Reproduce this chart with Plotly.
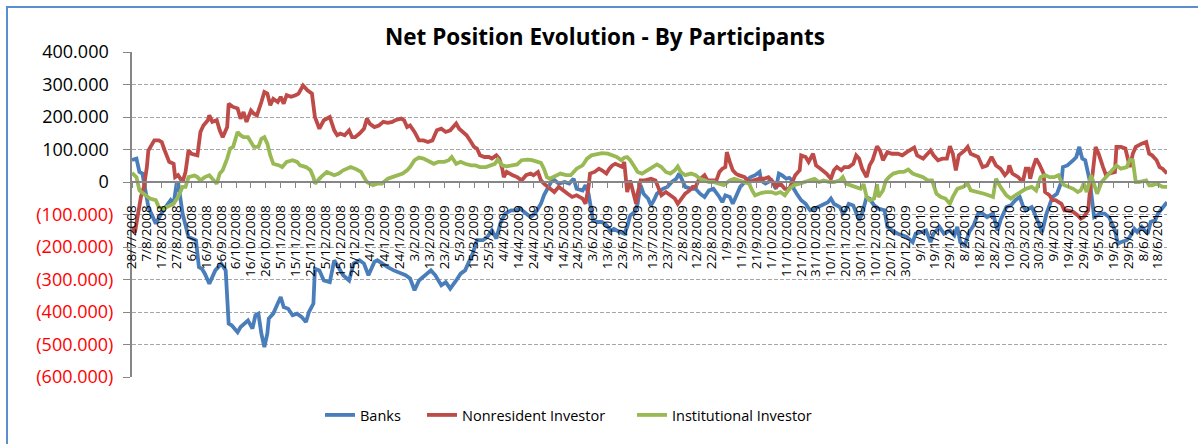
import plotly.graph_objects as go

# ---------------- data ----------------
banks_dates = [
    "2008-07-28", "2008-07-31", "2008-08-02", "2008-08-04", "2008-08-06", "2008-08-08", "2008-08-13", "2008-08-18",
    "2008-08-23", "2008-08-25", "2008-08-27", "2008-08-28", "2008-08-31", "2008-09-04", "2008-09-09", "2008-09-11",
    "2008-09-13", "2008-09-15", "2008-09-18", "2008-09-20", "2008-09-22", "2008-09-24", "2008-09-26", "2008-09-29",
    "2008-10-01", "2008-10-03", "2008-10-07", "2008-10-09", "2008-10-12", "2008-10-14", "2008-10-17", "2008-10-19",
    "2008-10-21", "2008-10-23", "2008-10-25", "2008-10-27", "2008-10-28", "2008-10-31", "2008-11-03", "2008-11-05",
    "2008-11-07", "2008-11-10", "2008-11-13", "2008-11-16", "2008-11-19", "2008-11-22", "2008-11-24", "2008-11-27",
    "2008-11-28", "2008-12-01", "2008-12-04", "2008-12-08", "2008-12-11", "2008-12-14", "2008-12-17", "2008-12-21",
    "2008-12-24", "2008-12-28", "2008-12-31", "2009-01-03", "2009-01-07", "2009-01-09", "2009-01-12", "2009-01-16",
    "2009-01-20", "2009-01-25", "2009-01-28", "2009-01-31", "2009-02-03", "2009-02-06", "2009-02-09", "2009-02-14",
    "2009-02-17", "2009-02-21", "2009-02-24", "2009-02-27", "2009-03-03", "2009-03-06", "2009-03-09", "2009-03-12",
    "2009-03-14", "2009-03-17", "2009-03-21", "2009-03-24", "2009-03-27", "2009-03-30", "2009-04-02", "2009-04-05",
    "2009-04-09", "2009-04-12", "2009-04-15", "2009-04-19", "2009-04-22", "2009-04-25", "2009-04-29", "2009-05-01",
    "2009-05-04", "2009-05-07", "2009-05-11", "2009-05-15", "2009-05-18", "2009-05-21", "2009-05-23", "2009-05-27",
    "2009-05-29", "2009-05-31", "2009-06-03", "2009-06-06", "2009-06-09", "2009-06-12", "2009-06-15", "2009-06-17",
    "2009-06-19", "2009-06-22", "2009-06-24", "2009-06-26", "2009-06-28", "2009-07-01", "2009-07-03", "2009-07-05",
    "2009-07-07", "2009-07-10", "2009-07-12", "2009-07-14", "2009-07-16", "2009-07-20", "2009-07-23", "2009-07-26",
    "2009-07-29", "2009-07-31", "2009-08-02", "2009-08-04", "2009-08-08", "2009-08-11", "2009-08-14", "2009-08-17",
    "2009-08-20", "2009-08-23", "2009-08-27", "2009-08-29", "2009-08-31", "2009-09-03", "2009-09-05", "2009-09-07",
    "2009-09-10", "2009-09-14", "2009-09-17", "2009-09-20", "2009-09-23", "2009-09-24", "2009-09-27", "2009-10-01",
    "2009-10-04", "2009-10-06", "2009-10-08", "2009-10-11", "2009-10-13", "2009-10-15", "2009-10-16", "2009-10-18",
    "2009-10-21", "2009-10-24", "2009-10-27", "2009-10-30", "2009-11-01", "2009-11-04", "2009-11-08", "2009-11-10",
    "2009-11-12", "2009-11-16", "2009-11-18", "2009-11-20", "2009-11-22", "2009-11-25", "2009-11-27", "2009-11-29",
    "2009-12-01", "2009-12-04", "2009-12-06", "2009-12-09", "2009-12-12", "2009-12-16", "2009-12-18", "2009-12-21",
    "2009-12-25", "2009-12-28", "2009-12-31", "2010-01-04", "2010-01-06", "2010-01-10", "2010-01-13", "2010-01-16",
    "2010-01-18", "2010-01-22", "2010-01-25", "2010-01-29", "2010-02-01", "2010-02-03", "2010-02-05", "2010-02-08",
    "2010-02-11", "2010-02-14", "2010-02-17", "2010-02-20", "2010-02-23", "2010-02-27", "2010-03-02", "2010-03-04",
    "2010-03-08", "2010-03-11", "2010-03-14", "2010-03-17", "2010-03-19", "2010-03-21", "2010-03-25", "2010-03-27",
    "2010-03-29", "2010-04-01", "2010-04-04", "2010-04-06", "2010-04-08", "2010-04-11", "2010-04-14", "2010-04-15",
    "2010-04-18", "2010-04-22", "2010-04-24", "2010-04-26", "2010-04-28", "2010-04-30", "2010-05-03", "2010-05-06",
    "2010-05-10", "2010-05-13", "2010-05-16", "2010-05-20", "2010-05-22", "2010-05-24", "2010-05-28", "2010-05-30",
    "2010-06-02", "2010-06-04", "2010-06-07", "2010-06-09", "2010-06-11", "2010-06-13", "2010-06-16", "2010-06-18",
    "2010-06-21", "2010-06-24",
]
banks_values = [
    68000, 72000, 31000, 26000, -26000, -77000, -128000, -87000,
    -56000, -67000, -5000, 0, -97000, -169000, -179000, -262000,
    -267000, -282000, -313000, -292000, -272000, -262000, -251000, -272000,
    -436000, -441000, -462000, -446000, -436000, -426000, -451000, -410000,
    -405000, -467000, -508000, -467000, -420000, -405000, -374000, -354000,
    -385000, -390000, -410000, -405000, -415000, -431000, -400000, -374000,
    -267000, -272000, -303000, -308000, -241000, -262000, -287000, -303000,
    -251000, -241000, -251000, -287000, -246000, -241000, -251000, -262000,
    -272000, -282000, -287000, -297000, -333000, -303000, -292000, -272000,
    -287000, -318000, -308000, -328000, -303000, -282000, -272000, -241000,
    -221000, -179000, -179000, -169000, -149000, -174000, -123000, -97000,
    -87000, -87000, -82000, -97000, -108000, -97000, -67000, -41000,
    -15000, 10000, -5000, 0, -5000, 10000, -21000, -26000,
    -10000, -36000, -118000, -123000, -123000, -133000, -149000, -144000,
    -149000, -154000, -159000, -138000, -103000, -92000, -67000, -10000,
    -36000, -51000, -72000, -56000, -36000, -21000, -15000, 0,
    10000, 26000, 5000, -15000, -21000, -21000, -36000, -46000,
    -26000, -21000, -46000, -62000, -41000, -46000, -67000, -46000,
    -15000, 5000, 15000, 21000, 31000, 5000, -5000, 5000,
    -21000, 26000, 21000, 10000, 13000, 5000, -21000, -36000,
    -56000, -67000, -87000, -82000, -77000, -72000, -62000, -51000,
    -67000, -77000, -97000, -87000, -67000, -72000, -97000, -118000,
    -97000, -46000, -51000, -72000, -82000, -87000, -138000, -149000,
    -159000, -164000, -169000, -185000, -159000, -154000, -149000, -185000,
    -159000, -138000, -159000, -149000, -164000, -138000, -185000, -195000,
    -154000, -133000, -97000, -97000, -108000, -97000, -149000, -118000,
    -77000, -72000, -56000, -46000, -72000, -87000, -77000, -97000,
    -118000, -154000, -97000, -72000, -46000, -36000, 0, 46000,
    51000, 67000, 77000, 108000, 72000, 67000, 5000, -108000,
    -97000, -97000, -108000, -149000, -190000, -185000, -179000, -169000,
    -144000, -154000, -138000, -149000, -159000, -123000, -118000, -97000,
    -77000, -62000,
]

nonresident_dates = [
    "2008-07-28", "2008-07-30", "2008-08-01", "2008-08-03", "2008-08-05", "2008-08-07", "2008-08-08", "2008-08-12",
    "2008-08-15", "2008-08-17", "2008-08-19", "2008-08-22", "2008-08-25", "2008-08-26", "2008-08-28", "2008-08-30",
    "2008-08-31", "2008-09-02", "2008-09-04", "2008-09-06", "2008-09-10", "2008-09-12", "2008-09-14", "2008-09-17",
    "2008-09-18", "2008-09-20", "2008-09-23", "2008-09-25", "2008-09-27", "2008-09-30", "2008-10-01", "2008-10-04",
    "2008-10-07", "2008-10-09", "2008-10-11", "2008-10-13", "2008-10-16", "2008-10-18", "2008-10-20", "2008-10-23",
    "2008-10-25", "2008-10-27", "2008-10-29", "2008-10-31", "2008-11-03", "2008-11-05", "2008-11-07", "2008-11-09",
    "2008-11-12", "2008-11-15", "2008-11-17", "2008-11-20", "2008-11-23", "2008-11-26", "2008-11-28", "2008-12-01",
    "2008-12-04", "2008-12-08", "2008-12-11", "2008-12-13", "2008-12-15", "2008-12-18", "2008-12-21", "2008-12-23",
    "2008-12-25", "2008-12-28", "2008-12-31", "2009-01-02", "2009-01-04", "2009-01-07", "2009-01-10", "2009-01-13",
    "2009-01-16", "2009-01-19", "2009-01-21", "2009-01-25", "2009-01-27", "2009-01-29", "2009-01-31", "2009-02-03",
    "2009-02-06", "2009-02-09", "2009-02-12", "2009-02-15", "2009-02-18", "2009-02-21", "2009-02-24", "2009-02-27",
    "2009-03-03", "2009-03-05", "2009-03-08", "2009-03-10", "2009-03-13", "2009-03-15", "2009-03-17", "2009-03-19",
    "2009-03-22", "2009-03-25", "2009-03-27", "2009-03-30", "2009-04-01", "2009-04-03", "2009-04-04", "2009-04-06",
    "2009-04-10", "2009-04-13", "2009-04-16", "2009-04-19", "2009-04-22", "2009-04-24", "2009-04-27", "2009-04-29",
    "2009-05-01", "2009-05-04", "2009-05-08", "2009-05-11", "2009-05-13", "2009-05-17", "2009-05-20", "2009-05-23",
    "2009-05-27", "2009-05-29", "2009-05-31", "2009-06-01", "2009-06-04", "2009-06-07", "2009-06-09", "2009-06-12",
    "2009-06-14", "2009-06-16", "2009-06-18", "2009-06-21", "2009-06-23", "2009-06-24", "2009-06-26", "2009-06-28",
    "2009-06-30", "2009-07-02", "2009-07-03", "2009-07-05", "2009-07-08", "2009-07-12", "2009-07-15", "2009-07-17",
    "2009-07-19", "2009-07-22", "2009-07-25", "2009-07-28", "2009-07-30", "2009-08-01", "2009-08-04", "2009-08-07",
    "2009-08-09", "2009-08-11", "2009-08-13", "2009-08-17", "2009-08-19", "2009-08-21", "2009-08-25", "2009-08-27",
    "2009-08-29", "2009-08-31", "2009-09-01", "2009-09-03", "2009-09-05", "2009-09-07", "2009-09-09", "2009-09-13",
    "2009-09-16", "2009-09-19", "2009-09-23", "2009-09-26", "2009-09-29", "2009-10-02", "2009-10-04", "2009-10-07",
    "2009-10-10", "2009-10-13", "2009-10-15", "2009-10-17", "2009-10-20", "2009-10-21", "2009-10-24", "2009-10-26",
    "2009-10-29", "2009-10-31", "2009-11-03", "2009-11-07", "2009-11-10", "2009-11-12", "2009-11-14", "2009-11-17",
    "2009-11-19", "2009-11-22", "2009-11-25", "2009-11-27", "2009-11-29", "2009-12-01", "2009-12-04", "2009-12-06",
    "2009-12-08", "2009-12-11", "2009-12-13", "2009-12-15", "2009-12-18", "2009-12-21", "2009-12-25", "2009-12-28",
    "2009-12-31", "2010-01-05", "2010-01-07", "2010-01-11", "2010-01-14", "2010-01-16", "2010-01-18", "2010-01-21",
    "2010-01-24", "2010-01-27", "2010-01-29", "2010-01-31", "2010-02-02", "2010-02-04", "2010-02-08", "2010-02-10",
    "2010-02-12", "2010-02-15", "2010-02-17", "2010-02-20", "2010-02-23", "2010-02-26", "2010-03-01", "2010-03-04",
    "2010-03-07", "2010-03-09", "2010-03-10", "2010-03-12", "2010-03-16", "2010-03-19", "2010-03-21", "2010-03-23",
    "2010-03-24", "2010-03-26", "2010-03-28", "2010-03-30", "2010-04-02", "2010-04-03", "2010-04-06", "2010-04-08",
    "2010-04-10", "2010-04-14", "2010-04-16", "2010-04-18", "2010-04-22", "2010-04-25", "2010-04-27", "2010-04-29",
    "2010-05-02", "2010-05-03", "2010-05-05", "2010-05-07", "2010-05-09", "2010-05-12", "2010-05-14", "2010-05-16",
    "2010-05-20", "2010-05-21", "2010-05-24", "2010-05-27", "2010-05-30", "2010-06-01", "2010-06-03", "2010-06-07",
    "2010-06-10", "2010-06-12", "2010-06-14", "2010-06-17", "2010-06-19", "2010-06-21", "2010-06-23", "2010-06-24",
]
nonresident_values = [
    -140000, -155000, -100000, -46000, -15000, 46000, 97000, 128000,
    128000, 123000, 97000, 62000, 56000, 15000, 21000, 10000,
    0, 31000, 97000, 87000, 82000, 154000, 174000, 190000,
    205000, 185000, 190000, 159000, 138000, 169000, 241000, 231000,
    226000, 195000, 215000, 185000, 220000, 210000, 205000, 246000,
    277000, 272000, 236000, 256000, 246000, 262000, 241000, 267000,
    262000, 267000, 272000, 297000, 282000, 272000, 200000, 164000,
    190000, 200000, 159000, 144000, 149000, 144000, 159000, 138000,
    138000, 149000, 164000, 195000, 179000, 169000, 174000, 185000,
    182000, 185000, 190000, 195000, 190000, 169000, 174000, 154000,
    128000, 128000, 123000, 128000, 159000, 164000, 154000, 159000,
    180000, 164000, 154000, 144000, 123000, 108000, 103000, 82000,
    77000, 77000, 72000, 82000, 72000, 41000, 15000, 31000,
    21000, 15000, 5000, 21000, 26000, 21000, 31000, 5000,
    -5000, -15000, -31000, -15000, -21000, -36000, -46000, -41000,
    -51000, -67000, -15000, 26000, 31000, 41000, 36000, 26000,
    41000, 51000, 56000, 51000, 46000, 62000, -31000, 5000,
    -36000, -67000, -36000, 5000, 5000, 10000, 5000, -15000,
    -41000, -31000, -41000, -51000, -67000, -56000, -36000, -26000,
    -15000, -15000, 5000, 21000, 5000, 5000, 5000, 31000,
    41000, 46000, 92000, 62000, 36000, 26000, 21000, 15000,
    0, 5000, 10000, 10000, 15000, 0, -15000, -5000,
    -21000, -21000, 0, 21000, 36000, 82000, 77000, 62000,
    87000, 51000, 41000, 26000, 10000, 36000, 46000, 36000,
    46000, 46000, 56000, 82000, 72000, 41000, 15000, 51000,
    67000, 110000, 97000, 67000, 92000, 87000, 87000, 82000,
    92000, 106000, 82000, 72000, 87000, 97000, 82000, 67000,
    72000, 72000, 110000, 87000, 36000, 82000, 97000, 108000,
    87000, 82000, 77000, 46000, 51000, 77000, 51000, 41000,
    21000, 31000, 51000, 26000, 15000, 0, 41000, 41000,
    10000, 46000, 72000, 56000, 26000, -31000, -41000, -56000,
    -56000, -67000, -87000, -87000, -92000, -103000, -113000, -108000,
    -87000, -36000, 26000, 108000, 87000, 46000, 21000, 26000,
    31000, 108000, 108000, 103000, 46000, 87000, 108000, 118000,
    123000, 87000, 82000, 67000, 46000, 41000, 31000, 26000,
]

institutional_dates = [
    "2008-07-28", "2008-07-31", "2008-08-02", "2008-08-06", "2008-08-09", "2008-08-13", "2008-08-15", "2008-08-18",
    "2008-08-22", "2008-08-25", "2008-08-28", "2008-08-31", "2008-09-02", "2008-09-04", "2008-09-08", "2008-09-10",
    "2008-09-12", "2008-09-15", "2008-09-18", "2008-09-21", "2008-09-23", "2008-09-25", "2008-09-27", "2008-09-30",
    "2008-10-02", "2008-10-04", "2008-10-07", "2008-10-09", "2008-10-11", "2008-10-14", "2008-10-16", "2008-10-18",
    "2008-10-21", "2008-10-23", "2008-10-25", "2008-10-27", "2008-10-29", "2008-10-31", "2008-11-04", "2008-11-06",
    "2008-11-09", "2008-11-13", "2008-11-16", "2008-11-18", "2008-11-22", "2008-11-25", "2008-11-27", "2008-11-28",
    "2008-12-02", "2008-12-06", "2008-12-11", "2008-12-14", "2008-12-17", "2008-12-22", "2008-12-25", "2008-12-29",
    "2008-12-31", "2009-01-02", "2009-01-06", "2009-01-09", "2009-01-12", "2009-01-16", "2009-01-19", "2009-01-22",
    "2009-01-26", "2009-01-29", "2009-01-31", "2009-02-03", "2009-02-06", "2009-02-09", "2009-02-13", "2009-02-16",
    "2009-02-19", "2009-02-23", "2009-02-26", "2009-02-28", "2009-03-03", "2009-03-06", "2009-03-09", "2009-03-13",
    "2009-03-16", "2009-03-19", "2009-03-23", "2009-03-26", "2009-03-29", "2009-03-31", "2009-04-03", "2009-04-06",
    "2009-04-10", "2009-04-13", "2009-04-16", "2009-04-20", "2009-04-23", "2009-04-26", "2009-04-29", "2009-05-01",
    "2009-05-03", "2009-05-05", "2009-05-09", "2009-05-12", "2009-05-16", "2009-05-19", "2009-05-21", "2009-05-23",
    "2009-05-27", "2009-05-30", "2009-06-02", "2009-06-06", "2009-06-09", "2009-06-13", "2009-06-16", "2009-06-19",
    "2009-06-22", "2009-06-24", "2009-06-26", "2009-06-28", "2009-07-01", "2009-07-03", "2009-07-06", "2009-07-10",
    "2009-07-13", "2009-07-16", "2009-07-19", "2009-07-22", "2009-07-25", "2009-07-28", "2009-07-30", "2009-08-01",
    "2009-08-04", "2009-08-08", "2009-08-11", "2009-08-14", "2009-08-17", "2009-08-20", "2009-08-23", "2009-08-27",
    "2009-08-30", "2009-09-03", "2009-09-06", "2009-09-09", "2009-09-13", "2009-09-16", "2009-09-18", "2009-09-20",
    "2009-09-24", "2009-09-27", "2009-10-01", "2009-10-04", "2009-10-07", "2009-10-10", "2009-10-13", "2009-10-16",
    "2009-10-20", "2009-10-23", "2009-10-26", "2009-10-30", "2009-11-02", "2009-11-05", "2009-11-09", "2009-11-12",
    "2009-11-16", "2009-11-18", "2009-11-20", "2009-11-23", "2009-11-27", "2009-11-30", "2009-12-02", "2009-12-04",
    "2009-12-06", "2009-12-09", "2009-12-11", "2009-12-12", "2009-12-15", "2009-12-17", "2009-12-19", "2009-12-22",
    "2009-12-26", "2009-12-29", "2010-01-01", "2010-01-04", "2010-01-07", "2010-01-11", "2010-01-14", "2010-01-17",
    "2010-01-20", "2010-01-23", "2010-01-26", "2010-01-29", "2010-01-31", "2010-02-03", "2010-02-07", "2010-02-10",
    "2010-02-12", "2010-02-18", "2010-02-21", "2010-02-24", "2010-02-27", "2010-03-01", "2010-03-04", "2010-03-08",
    "2010-03-11", "2010-03-14", "2010-03-18", "2010-03-21", "2010-03-25", "2010-03-28", "2010-03-31", "2010-04-03",
    "2010-04-06", "2010-04-09", "2010-04-12", "2010-04-14", "2010-04-16", "2010-04-19", "2010-04-22", "2010-04-25",
    "2010-04-27", "2010-04-29", "2010-05-01", "2010-05-04", "2010-05-06", "2010-05-08", "2010-05-11", "2010-05-14",
    "2010-05-17", "2010-05-21", "2010-05-24", "2010-05-28", "2010-05-30", "2010-06-01", "2010-06-03", "2010-06-05",
    "2010-06-10", "2010-06-12", "2010-06-14", "2010-06-17", "2010-06-19", "2010-06-21", "2010-06-24",
]
institutional_values = [
    28000, 15000, -26000, -41000, -51000, -56000, -77000, -82000,
    -72000, -67000, -46000, -15000, -15000, 15000, 20000, 15000,
    5000, 15000, 21000, 5000, -5000, 26000, 36000, 72000,
    103000, 108000, 154000, 144000, 138000, 138000, 123000, 108000,
    108000, 133000, 138000, 118000, 82000, 56000, 51000, 46000,
    62000, 67000, 62000, 51000, 46000, 36000, 15000, -5000,
    15000, 31000, 21000, 26000, 36000, 46000, 41000, 31000,
    15000, 0, -10000, -5000, -5000, 10000, 15000, 21000,
    26000, 36000, 46000, 67000, 75000, 72000, 62000, 56000,
    62000, 62000, 67000, 77000, 56000, 62000, 56000, 51000,
    51000, 46000, 46000, 51000, 56000, 69000, 51000, 48000,
    51000, 54000, 67000, 69000, 67000, 62000, 59000, 41000,
    15000, 10000, 21000, 26000, 21000, 21000, 31000, 41000,
    51000, 72000, 82000, 85000, 89000, 87000, 82000, 77000,
    67000, 75000, 77000, 67000, 46000, 31000, 26000, 36000,
    46000, 54000, 46000, 31000, 26000, 36000, 48000, 31000,
    21000, 26000, 21000, 10000, 5000, 0, 0, -5000,
    -10000, 5000, 10000, 5000, 0, -5000, -26000, -41000,
    -34000, -31000, -31000, -36000, -31000, -41000, -21000, -10000,
    -5000, 0, 5000, 10000, 0, 5000, 0, 0,
    5000, 15000, -5000, -10000, -15000, -21000, -7000, -46000,
    -56000, -51000, -7000, -46000, -26000, 5000, 15000, 26000,
    31000, 31000, 38000, 26000, 21000, 15000, 5000, 5000,
    -36000, -46000, -51000, -67000, -46000, -21000, -15000, -5000,
    -26000, -31000, -36000, -41000, -46000, 10000, -15000, -41000,
    -51000, -41000, -31000, -21000, -15000, -26000, 15000, 21000,
    15000, 15000, 21000, 0, -10000, -15000, -21000, -31000,
    -26000, -5000, -31000, 21000, -5000, -36000, 0, 15000,
    31000, 51000, 41000, 46000, 69000, 67000, 0, 0,
    5000, -10000, -10000, -5000, -10000, -15000, -15000,
]

series_names = ["Banks", "Nonresident Investor", "Institutional Investor"]
series_colors = ["#4A7EBB", "#BE4B48", "#98B954"]

y_tick_values = [400000, 300000, 200000, 100000, 0, -100000, -200000, -300000, -400000, -500000, -600000]
y_tick_labels = ["400.000", "300.000", "200.000", "100.000", "0", "(100.000)", "(200.000)",
                 "(300.000)", "(400.000)", "(500.000)", "(600.000)"]

x_first_tick = "2008-07-28"
x_range = ["2008-07-28", "2010-06-24"]

# ---------------- figure ----------------
W, H = 1198, 444
L, R, T, B = 132, 31, 52, 67
plot_w = W - L - R
plot_h = H - T - B

font_family = "Open Sans, Noto Sans, DejaVu Sans, sans-serif"

legend_ids = ["legend", "legend2", "legend3"]
legend_text_x = [360, 462, 672]   # pixel x where each legend label starts

fig = go.Figure()
for name, xs, ys, color, lg in zip(series_names,
                                   [banks_dates, nonresident_dates, institutional_dates],
                                   [banks_values, nonresident_values, institutional_values],
                                   series_colors, legend_ids):
    fig.add_trace(go.Scatter(x=xs, y=ys, mode="lines", name=name, legend=lg,
                             line=dict(color=color, width=3.8)))

# empty helper trace so the tick-mark overlay axis is created
fig.add_trace(go.Scatter(x=[], y=[], xaxis="x2", yaxis="y", showlegend=False,
                         hoverinfo="skip", mode="lines"))

tick_text = [f'<span style="color:#FF0000">{t}</span>' if v < 0 else t + "\u00a0"
             for v, t in zip(y_tick_values, y_tick_labels)]

ymin, ymax = -600000, 400000
zero_pos = (0 - ymin) / (ymax - ymin)

legend_y = -(415 - (T + plot_h)) / plot_h
legend_cfg = {}
for lg, tx in zip(legend_ids, legend_text_x):
    legend_cfg[lg] = dict(orientation="h", x=(tx - 40 - L) / plot_w, xanchor="left",
                          y=legend_y, yanchor="middle",
                          font=dict(family=font_family, size=14.5, color="black"),
                          bgcolor="rgba(0,0,0,0)")

fig.update_layout(
    width=W, height=H, autosize=False,
    margin=dict(l=L, r=R, t=T, b=B, autoexpand=False),
    paper_bgcolor="white", plot_bgcolor="white",
    font=dict(family=font_family, color="black"),
    title=dict(text="<b>Net Position Evolution - By Participants</b>",
               x=605 / W, xanchor="center", y=1 - 37 / H, yanchor="middle",
               font=dict(family=font_family, size=22.5, color="black")),
    showlegend=True,
    shapes=[dict(type="rect", xref="paper", yref="paper",
                 x0=(7 - L) / plot_w, x1=(W + 10 - L) / plot_w,
                 y0=-(H + 10 - (T + plot_h)) / plot_h, y1=1 + (T - 7) / plot_h,
                 line=dict(color="#5B8ED0", width=2), fillcolor="rgba(0,0,0,0)", layer="below")],
    **legend_cfg,
)

common_x = dict(type="date", range=x_range, tick0=x_first_tick, dtick=10 * 86400000,
                anchor="free", position=zero_pos, automargin=False,
                showgrid=False, zeroline=False)

# main x axis: line + labels (transparent long ticks push labels away from the line)
fig.update_layout(xaxis=dict(
    **common_x,
    tickformat="%-d/%-m/%Y", tickangle=-90,
    showline=True, linecolor="#868686", linewidth=2,
    ticks="outside", ticklen=17, tickcolor="rgba(0,0,0,0)", tickwidth=1,
    tickfont=dict(family=font_family, size=13.5, color="black"),
))
# overlay axis: the short visible tick marks only
fig.update_layout(xaxis2=dict(
    **common_x,
    overlaying="x", matches="x", side="bottom",
    showline=False, showticklabels=False,
    ticks="outside", ticklen=5, tickcolor="#868686", tickwidth=1,
))
fig.update_yaxes(
    range=[ymin, ymax], tickmode="array", tickvals=y_tick_values, ticktext=tick_text,
    automargin=False,
    showgrid=True, gridcolor="#A6A6A6", gridwidth=1, griddash="4px,2px",
    zeroline=False,
    showline=True, linecolor="#868686", linewidth=2,
    ticks="outside", ticklen=7, tickcolor="#868686", tickwidth=1,
    tickfont=dict(family=font_family, size=18, color="black"),
    ticklabelstandoff=6,
)

fig.write_html("out.html", config={"displayModeBar": False},
               post_script="document.body.style.margin='0';")
